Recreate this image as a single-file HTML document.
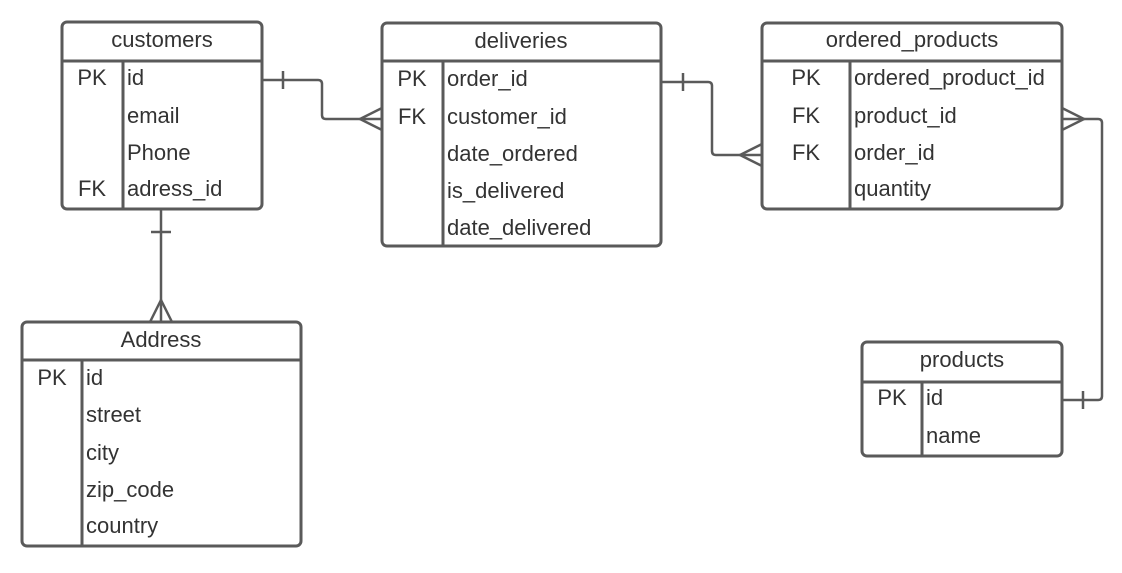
<!DOCTYPE html>
<html><head><style>
html,body{margin:0;padding:0;background:#fff;}
svg text{font-family:"Liberation Sans",sans-serif;font-size:22px;fill:#333;}
</style></head><body>
<svg width="1122" height="568" xmlns="http://www.w3.org/2000/svg">
<g fill="none" stroke="#5a5a5a" stroke-width="3">
<rect x="62" y="22" width="200" height="187" rx="5"/>
<line x1="62" y1="61" x2="262" y2="61"/><line x1="123" y1="61" x2="123" y2="209"/>
<rect x="382" y="23" width="279" height="223" rx="5"/>
<line x1="382" y1="61" x2="661" y2="61"/><line x1="443" y1="61" x2="443" y2="246"/>
<rect x="762" y="23" width="300" height="186" rx="5"/>
<line x1="762" y1="61" x2="1062" y2="61"/><line x1="850" y1="61" x2="850" y2="209"/>
<rect x="22" y="322" width="279" height="224" rx="5"/>
<line x1="22" y1="360" x2="301" y2="360"/><line x1="82" y1="360" x2="82" y2="546"/>
<rect x="862" y="342" width="200" height="114" rx="5"/>
<line x1="862" y1="382" x2="1062" y2="382"/><line x1="922" y1="382" x2="922" y2="456"/>
</g>
<g fill="none" stroke="#5a5a5a" stroke-width="2.5">
<path d="M262 80 H318 Q322 80 322 84 V115 Q322 119 326 119 H382"/>
<line x1="283" y1="71" x2="283" y2="89"/>
<path d="M382 108 L360 119 L382 130"/>
<path d="M661 82 H708 Q712 82 712 86 V151 Q712 155 716 155 H762"/>
<line x1="683" y1="73" x2="683" y2="91"/>
<path d="M762 144 L740 155 L762 166"/>
<path d="M1062 119 H1098 Q1102 119 1102 123 V396 Q1102 400 1098 400 H1062"/>
<path d="M1062 108 L1084 119 L1062 130"/>
<line x1="1083" y1="391" x2="1083" y2="409"/>
<path d="M161 209 V322"/>
<line x1="151" y1="232" x2="171" y2="232"/>
<path d="M150 322 L161 300 L172 322"/>
</g>
<text x="162" y="47" text-anchor="middle">customers</text>
<text x="92" y="85" text-anchor="middle">PK</text><text x="127" y="85">id</text>
<text x="127" y="123">email</text>
<text x="127" y="160">Phone</text>
<text x="92" y="196" text-anchor="middle">FK</text><text x="127" y="196">adress_id</text>

<text x="521" y="48" text-anchor="middle">deliveries</text>
<text x="412" y="86" text-anchor="middle">PK</text><text x="447" y="86">order_id</text>
<text x="412" y="124" text-anchor="middle">FK</text><text x="447" y="124">customer_id</text>
<text x="447" y="161">date_ordered</text>
<text x="447" y="198">is_delivered</text>
<text x="447" y="235">date_delivered</text>

<text x="912" y="47" text-anchor="middle">ordered_products</text>
<text x="806" y="85" text-anchor="middle">PK</text><text x="854" y="85">ordered_product_id</text>
<text x="806" y="123" text-anchor="middle">FK</text><text x="854" y="123">product_id</text>
<text x="806" y="160" text-anchor="middle">FK</text><text x="854" y="160">order_id</text>
<text x="854" y="196">quantity</text>

<text x="161" y="347" text-anchor="middle">Address</text>
<text x="52" y="385" text-anchor="middle">PK</text><text x="86" y="385">id</text>
<text x="86" y="422">street</text>
<text x="86" y="460">city</text>
<text x="86" y="497">zip_code</text>
<text x="86" y="533">country</text>

<text x="962" y="367" text-anchor="middle">products</text>
<text x="892" y="405" text-anchor="middle">PK</text><text x="926" y="405">id</text>
<text x="926" y="443">name</text>
</svg>
</body></html>
